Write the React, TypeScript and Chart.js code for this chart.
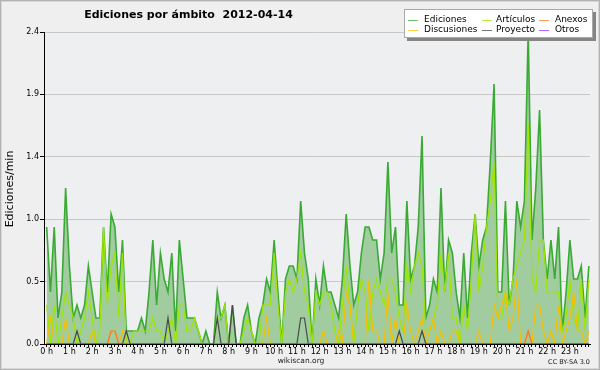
import React, { useEffect, useRef } from 'react';
import { Chart, registerables } from 'chart.js';

Chart.register(...registerables);

// 10-minute slots, 144 per day (edits per minute)
const ediciones = [
  0.9, 0.4, 0.9, 0.2, 0.4, 1.2, 0.6, 0.2, 0.3, 0.2, 0.3, 0.6,
  0.4, 0.2, 0.2, 0.9, 0.4, 1.0, 0.9, 0.4, 0.8, 0.1, 0.1, 0.1,
  0.1, 0.2, 0.1, 0.4, 0.8, 0.3, 0.7, 0.5, 0.4, 0.7, 0.1, 0.8,
  0.5, 0.2, 0.2, 0.2, 0.1, 0.0, 0.1, 0.0, 0.0, 0.4, 0.2, 0.3,
  0.0, 0.3, 0.0, 0.0, 0.2, 0.3, 0.1, 0.0, 0.2, 0.3, 0.5, 0.4,
  0.8, 0.4, 0.0, 0.5, 0.6, 0.6, 0.5, 1.1, 0.7, 0.5, 0.0, 0.5,
  0.3, 0.6, 0.4, 0.4, 0.3, 0.2, 0.5, 1.0, 0.6, 0.3, 0.4, 0.7,
  0.9, 0.9, 0.8, 0.8, 0.5, 0.7, 1.4, 0.7, 0.9, 0.3, 0.3, 1.1,
  0.5, 0.6, 0.9, 1.6, 0.2, 0.3, 0.5, 0.4, 1.2, 0.4, 0.8, 0.7,
  0.4, 0.2, 0.7, 0.2, 0.7, 1.0, 0.6, 0.8, 0.9, 1.4, 2.0, 0.4,
  0.4, 1.1, 0.3, 0.5, 1.1, 0.9, 1.1, 2.4, 0.8, 1.2, 1.8, 0.8,
  0.5, 0.8, 0.5, 0.9, 0.1, 0.4, 0.8, 0.5, 0.5, 0.6, 0.2, 0.6,
];

const articulos = [
  0.3, 0.0, 0.3, 0.0, 0.2, 0.4, 0.3, 0.2, 0.0, 0.1, 0.2, 0.4,
  0.2, 0.0, 0.1, 0.9, 0.3, 0.6, 0.7, 0.2, 0.7, 0.0, 0.0, 0.1,
  0.1, 0.1, 0.1, 0.1, 0.2, 0.1, 0.1, 0.0, 0.1, 0.2, 0.0, 0.3,
  0.3, 0.1, 0.1, 0.2, 0.1, 0.0, 0.0, 0.0, 0.0, 0.2, 0.2, 0.3,
  0.0, 0.0, 0.0, 0.0, 0.1, 0.2, 0.1, 0.0, 0.0, 0.3, 0.3, 0.3,
  0.7, 0.3, 0.0, 0.4, 0.5, 0.4, 0.5, 0.7, 0.4, 0.3, 0.0, 0.4,
  0.3, 0.4, 0.4, 0.3, 0.1, 0.0, 0.3, 0.6, 0.3, 0.0, 0.3, 0.5,
  0.4, 0.1, 0.4, 0.5, 0.4, 0.3, 0.5, 0.5, 0.4, 0.2, 0.1, 0.6,
  0.4, 0.6, 0.7, 0.6, 0.1, 0.1, 0.2, 0.3, 0.7, 0.4, 0.7, 0.2,
  0.2, 0.0, 0.3, 0.1, 0.5, 1.0, 0.4, 0.6, 0.9, 1.1, 1.4, 0.2,
  0.2, 0.4, 0.3, 0.5, 0.6, 0.7, 0.8, 1.7, 0.5, 0.4, 0.8, 0.8,
  0.4, 0.4, 0.4, 0.4, 0.1, 0.2, 0.5, 0.2, 0.1, 0.5, 0.1, 0.5,
];

const anexos = [
  0, 0, 0, 0, 0, 0, 0, 0, 0, 0, 0, 0,
  0, 0, 0, 0, 0, 0.1, 0.1, 0, 0, 0, 0, 0,
  0, 0, 0, 0, 0, 0, 0, 0, 0, 0, 0, 0,
  0, 0, 0, 0, 0, 0, 0, 0, 0, 0, 0, 0,
  0, 0, 0, 0, 0, 0, 0, 0, 0, 0, 0, 0,
  0, 0, 0, 0, 0, 0, 0, 0, 0, 0, 0, 0,
  0, 0, 0, 0, 0, 0, 0, 0, 0, 0, 0, 0,
  0, 0, 0, 0, 0, 0, 0, 0, 0, 0, 0, 0,
  0, 0, 0, 0, 0, 0, 0, 0, 0, 0, 0, 0,
  0, 0, 0, 0, 0, 0, 0, 0, 0, 0, 0, 0,
  0, 0, 0, 0, 0, 0, 0, 0.1, 0, 0, 0, 0,
  0, 0, 0, 0, 0, 0, 0, 0, 0, 0, 0, 0,
];

const discusiones = [
  0, 0.2, 0, 0, 0, 0.2, 0, 0, 0, 0, 0, 0,
  0.1, 0, 0, 0, 0, 0.1, 0.1, 0, 0.1, 0, 0, 0,
  0, 0, 0, 0, 0, 0, 0, 0, 0, 0, 0, 0,
  0, 0, 0, 0, 0, 0, 0, 0, 0, 0, 0, 0,
  0, 0, 0, 0, 0, 0, 0, 0, 0, 0, 0.2, 0,
  0, 0, 0, 0, 0, 0, 0, 0, 0, 0, 0, 0,
  0, 0.1, 0, 0, 0, 0.1, 0, 0.4, 0.3, 0, 0, 0,
  0, 0.5, 0.1, 0.1, 0, 0, 0.4, 0, 0.2, 0, 0, 0.3,
  0.1, 0, 0.1, 0.2, 0, 0.1, 0.2, 0, 0.1, 0, 0, 0.1,
  0.1, 0, 0, 0, 0, 0, 0.1, 0, 0, 0, 0.3, 0.2,
  0.3, 0.4, 0.1, 0.2, 0.5, 0, 0, 0.1, 0, 0.3, 0.3, 0.1,
  0, 0.1, 0, 0.3, 0, 0.1, 0.2, 0.4, 0.1, 0.1, 0, 0.1,
];

const proyecto = [
  0, 0, 0, 0, 0, 0, 0, 0, 0.1, 0, 0, 0,
  0, 0, 0, 0, 0, 0, 0, 0, 0, 0.1, 0, 0,
  0, 0, 0, 0, 0, 0, 0, 0, 0.2, 0, 0, 0,
  0, 0, 0, 0, 0, 0, 0, 0, 0, 0.2, 0, 0,
  0, 0.3, 0, 0, 0, 0, 0, 0, 0, 0, 0, 0,
  0, 0, 0, 0, 0, 0, 0, 0.2, 0.2, 0, 0, 0,
  0, 0, 0, 0, 0, 0, 0, 0, 0, 0, 0, 0,
  0, 0, 0, 0, 0, 0, 0, 0, 0, 0.1, 0, 0,
  0, 0, 0, 0.1, 0, 0, 0, 0, 0, 0, 0, 0,
  0, 0, 0, 0, 0, 0, 0, 0, 0, 0, 0, 0,
  0, 0, 0, 0, 0, 0, 0, 0, 0, 0, 0, 0,
  0, 0, 0, 0, 0, 0, 0, 0, 0, 0, 0, 0,
];

const otros = [
  0, 0, 0, 0, 0, 0, 0, 0, 0, 0, 0, 0,
  0, 0, 0, 0, 0, 0, 0, 0, 0, 0, 0, 0,
  0, 0, 0, 0, 0, 0, 0, 0, 0, 0, 0, 0,
  0, 0, 0, 0, 0, 0, 0, 0, 0, 0, 0, 0,
  0, 0, 0, 0, 0, 0, 0, 0, 0, 0, 0, 0,
  0, 0, 0, 0, 0, 0, 0, 0, 0, 0, 0, 0,
  0, 0, 0, 0, 0, 0, 0, 0, 0, 0, 0, 0,
  0, 0, 0, 0, 0, 0, 0, 0, 0, 0, 0, 0,
  0, 0, 0, 0, 0, 0, 0, 0, 0, 0, 0, 0,
  0, 0, 0, 0, 0, 0, 0, 0, 0, 0, 0, 0,
  0, 0, 0, 0, 0, 0, 0, 0, 0, 0, 0, 0,
  0, 0, 0, 0, 0, 0, 0, 0, 0, 0, 0, 0,
];

const hourLabels = [
  '0 h', '1 h', '2 h', '3 h', '4 h', '5 h', '6 h', '7 h', '8 h', '9 h', '10 h', '11 h',
  '12 h', '13 h', '14 h', '15 h', '16 h', '17 h', '18 h', '19 h', '20 h', '21 h', '22 h', '23 h',
];
const yTickValues = [0, 0.48, 0.96, 1.44, 1.92, 2.4];

const titleText = 'Ediciones por ámbito  2012-04-14';
const yTitleText = 'Ediciones/min';
const footerText = 'wikiscan.org';
const licenseText = 'CC BY-SA 3.0';

const seriesNames = ['Ediciones', 'Artículos', 'Anexos', 'Discusiones', 'Proyecto', 'Otros'];
const seriesColors = ['#3aaa35', '#9ee600', '#ff7033', '#f5c000', '#4a4a4a', '#9933ff'];
const FONT = 'DejaVu Sans';

const decor = {
  id: 'decor',
  beforeDraw(chart: any) {
    const { ctx, chartArea: a } = chart;
    ctx.save();
    ctx.fillStyle = '#efefef';
    ctx.fillRect(0, 0, chart.width, chart.height);
    ctx.strokeStyle = '#b2b2b2';
    ctx.lineWidth = 1;
    ctx.strokeRect(0.5, 0.5, chart.width - 1, chart.height - 1);
    ctx.strokeStyle = '#d8d8d8';
    ctx.strokeRect(1.5, 1.5, chart.width - 3, chart.height - 3);
    ctx.fillStyle = '#eeeff1';
    ctx.fillRect(a.left, a.top, a.right - a.left, a.bottom - a.top);
    ctx.restore();
  },
  afterDraw(chart: any) {
    const { ctx } = chart;
    ctx.save();
    // title
    ctx.fillStyle = '#000';
    ctx.font = `bold 11px "${FONT}"`;
    ctx.textAlign = 'center';
    ctx.textBaseline = 'alphabetic';
    ctx.fillText(titleText, 188.5, 17.5);
    // y title
    ctx.save();
    ctx.translate(13, 189);
    ctx.rotate(-Math.PI / 2);
    ctx.font = `11px "${FONT}"`;
    ctx.textAlign = 'center';
    ctx.textBaseline = 'alphabetic';
    ctx.fillText(yTitleText, 0, 0);
    ctx.restore();
    // footer
    ctx.font = `7.5px "${FONT}"`;
    ctx.textAlign = 'center';
    ctx.textBaseline = 'middle';
    ctx.fillStyle = '#222';
    ctx.fillText(footerText, 301, 361.5);
    ctx.font = `6.5px "${FONT}"`;
    ctx.textAlign = 'right';
    ctx.fillText(licenseText, 590, 362.5);
    // legend
    const bx = 404, by = 9, bw = 189, bh = 29;
    ctx.fillStyle = '#858585';
    ctx.fillRect(bx + 3, by + 3, bw, bh);
    ctx.fillStyle = '#ffffff';
    ctx.fillRect(bx, by, bw, bh);
    ctx.strokeStyle = '#a8a8a8';
    ctx.lineWidth = 1;
    ctx.strokeRect(bx + 0.5, by + 0.5, bw - 1, bh - 1);
    const cols = [408, 482, 539];
    const textX = [424, 496, 555];
    const rows = [19.5, 29.5];
    const order = [
      [0, 0], [1, 0], [2, 0],
      [0, 1], [1, 1], [2, 1],
    ];
    const legendIdx = [0, 1, 2, 3, 4, 5];
    ctx.font = `9px "${FONT}"`;
    ctx.textAlign = 'left';
    ctx.textBaseline = 'middle';
    legendIdx.forEach((si, k) => {
      const [c, r] = order[k];
      const y = rows[r];
      ctx.strokeStyle = seriesColors[si];
      ctx.globalAlpha = 0.75;
      ctx.beginPath();
      ctx.moveTo(cols[c], Math.round(y) + 0.5);
      ctx.lineTo(cols[c] + 10, Math.round(y) + 0.5);
      ctx.stroke();
      ctx.globalAlpha = 1;
      ctx.fillStyle = '#000';
      ctx.fillText(seriesNames[si], textX[c], y);
    });
    ctx.restore();
  },
};

export default function App() {
  const ref = useRef<HTMLCanvasElement | null>(null);
  useEffect(() => {
    if (!ref.current) return;
    const toPts = (arr: number[]) => arr.map((v, i) => ({ x: i, y: v }));
    const series = [ediciones, articulos, anexos, discusiones, proyecto, otros];
    const orders = [6, 5, 3, 4, 2, 1];
    const datasets = series.map((arr, k) => ({
      label: seriesNames[k],
      data: toPts(arr),
      borderColor: seriesColors[k],
      backgroundColor: k === 0 ? '#a0cc9f' : seriesColors[k],
      fill: k === 0 ? 'origin' : false,
      borderWidth: k === 0 ? 1.6 : 1.2,
      pointRadius: 0,
      tension: 0,
      order: orders[k],
    }));
    const chart = new Chart(ref.current, {
      type: 'line',
      data: { datasets },
      options: {
        animation: false,
        responsive: false,
        maintainAspectRatio: false,
        events: [],
        layout: { padding: { left: 0, top: 32, right: 10, bottom: 0 } },
        plugins: {
          legend: { display: false },
          title: { display: false },
          tooltip: { enabled: false },
        },
        scales: {
          x: {
            type: 'linear',
            min: -0.7,
            max: 143.3,
            z: 1,
            afterFit: (s: any) => { s.height = 26; },
            afterBuildTicks: (s: any) => {
              const t = [];
              for (let i = 0; i < ediciones.length; i++) t.push({ value: i });
              s.ticks = t;
            },
            ticks: {
              autoSkip: false,
              maxRotation: 0,
              minRotation: 0,
              padding: 0,
              color: '#000',
              font: { family: FONT, size: 8 },
              callback: (v: any) => (v % 6 === 0 ? hourLabels[v / 6] : ''),
            },
            grid: { drawOnChartArea: false, drawTicks: true, tickLength: 3, tickColor: '#000', color: '#000' },
            border: { color: '#000', width: 1 },
          },
          y: {
            min: 0,
            max: 2.4,
            afterFit: (s: any) => { s.width = 44; },
            afterBuildTicks: (s: any) => { s.ticks = yTickValues.map((v) => ({ value: v })); },
            ticks: {
              padding: 1,
              color: '#000',
              font: { family: FONT, size: 8 },
              callback: (v: any) => Number(v).toFixed(1),
            },
            grid: { color: '#c8c8c8', tickColor: '#000', tickLength: 4 },
            border: { color: '#000', width: 1 },
          },
        },
      },
      plugins: [decor],
    } as any);
    return () => chart.destroy();
  }, []);
  return (
    <div style={{ position: 'fixed', left: 0, top: 0, width: 600, height: 370 }}>
      <canvas ref={ref} width={600} height={370} style={{ display: 'block' }} />
    </div>
  );
}
